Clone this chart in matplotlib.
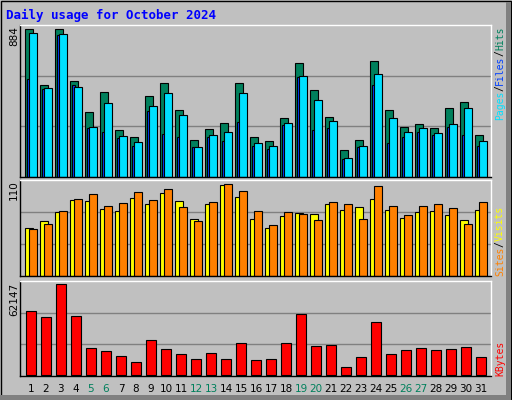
import matplotlib
matplotlib.use("Agg")
import matplotlib.pyplot as plt
from matplotlib.patches import Rectangle

days = list(range(1, 32))
weekend = [5, 6, 12, 13, 19, 20, 26, 27]

hits = [884, 551, 884, 571, 391, 505, 283, 241, 481, 559, 403, 222, 289, 325, 559, 236,
        217, 355, 679, 517, 361, 162, 222, 691, 403, 301, 319, 295, 415, 451, 253]
pages = [860, 529, 854, 535, 301, 445, 246, 210, 427, 499, 373, 180, 253, 271, 499, 204,
         186, 325, 601, 457, 337, 114, 186, 613, 355, 271, 295, 265, 319, 415, 216]
files = [583, 523, 848, 547, 295, 271, 234, 186, 395, 259, 241, 180, 241, 216, 331, 186,
         168, 313, 595, 283, 295, 108, 180, 547, 204, 241, 271, 253, 301, 253, 186]
visits = [57.4, 65.8, 76.5, 90.9, 89.7, 80.1, 77.7, 93.3, 86.1, 99.3, 89.7, 68.2, 86.1, 108.8,
          94.5, 68.2, 57.4, 71.8, 75.3, 74.2, 86.1, 78.9, 82.5, 92.1, 78.9, 69.4, 76.5, 77.7,
          72.9, 66.9, 78.9]
sites = [56.2, 62.2, 77.7, 92.1, 98.1, 83.7, 87.3, 100.4, 90.9, 104.0, 82.5, 65.8, 88.5, 110,
         101.6, 77.7, 60.6, 76.5, 74.2, 66.9, 88.5, 86.1, 68.2, 107.6, 83.7, 72.9, 83.7, 86.1,
         81.3, 62.2, 88.5]
kbytes = [43700, 39600, 62147, 40300, 18400, 16400, 13000, 8900, 23900, 17800, 14300, 10900,
          15000, 10900, 21800, 10200, 10900, 21800, 41700, 19800, 20500, 5500, 12300, 36200,
          14300, 17100, 18400, 17100, 17800, 19100, 12300]

BG = "#C0C0C0"
fig = plt.figure(figsize=(5.12, 4.0), dpi=100, facecolor=BG)
fig.patches.append(Rectangle((0.002, 0.002), 0.996, 0.996, transform=fig.transFigure,
                             fill=False, edgecolor="black", lw=1))
fig.patches.append(Rectangle((0.0, 0.0), 0.996, 0.013, transform=fig.transFigure,
                             facecolor="#808080", edgecolor="none"))
fig.patches.append(Rectangle((0.988, 0.0), 0.01, 0.996, transform=fig.transFigure,
                             facecolor="#808080", edgecolor="none"))

def panel(rect, ylim):
    ax = fig.add_axes(rect, facecolor=BG)
    ax.set_xlim(0.27, 31.67)
    ax.set_ylim(*ylim)
    ax.set_xticks([])
    ax.set_yticks([])
    for f in (1 / 3, 2 / 3):
        ax.axhline(ylim[0] + f * (ylim[1] - ylim[0]), color="#808080", lw=1, zorder=0)
    for s in ax.spines.values():
        s.set_color("black")
        s.set_linewidth(1)
    ax.spines["top"].set_color("white")
    ax.spines["right"].set_color("white")
    return ax

bk = dict(edgecolor="black", linewidth=0.8, align="edge")

ax1 = panel([20 / 512, 223 / 400, 471 / 512, 152 / 400], (0, 908))
ax1.bar([d - 0.38 for d in days], hits, width=0.49, color="#00805C", **bk)
ax1.bar([d - 0.29 for d in days], files, width=0.2, color="#0040FF", **bk)
ax1.bar([d - 0.11 for d in days], pages, width=0.49, color="#00E0FF", **bk)

ax2 = panel([20 / 512, 124 / 400, 471 / 512, 96 / 400], (0, 114.8))
ax2.bar([d - 0.38 for d in days], visits, width=0.49, color="#FFFF00", **bk)
ax2.bar([d - 0.11 for d in days], sites, width=0.49, color="#FF8000", **bk)

ax3 = panel([20 / 512, 24 / 400, 471 / 512, 95 / 400], (-683, 64425))
ax3.bar([d - 0.31 for d in days], kbytes, width=0.67, color="#FF0000", **bk)

fig.text(6 / 512, 1 - 15 / 400, "Daily usage for October 2024", color="#0000FF",
         family="DejaVu Sans Mono", weight="bold", fontsize=9, va="center")

lab = dict(rotation=90, fontsize=7.5, ha="center", va="top")
fig.text(14 / 512, 1 - 26 / 400, "884", **lab)
fig.text(14 / 512, 1 - 180 / 400, "110", **lab)
fig.text(14 / 512, 1 - 283 / 400, "62147", **lab)

FS = 7
CH = 0.6 * FS * 100 / 72
mono = dict(rotation=90, fontsize=FS, ha="center", va="bottom", family="DejaVu Sans Mono")
x = 500 / 512
def stack(parts, y0):
    y = y0
    for txt, col in parts:
        fig.text(x, 1 - y / 400, txt, color=col, **mono)
        y -= len(txt) * CH

stack([("Pages", "#00E0FF"), ("/", "black"), ("Files", "#0040FF"), ("/", "black"),
       ("Hits", "#00805C")], 120)
stack([("Sites", "#FF8000"), ("/", "black"), ("Visits", "#FFFF00")], 276)
stack([("KBytes", "#FF0000")], 376)

for d in days:
    xf = (20 + (d - 0.27) * 15.0) / 512
    fig.text(xf, 1 - 389 / 400, str(d), fontsize=7.5, ha="center", va="center",
             color="#00805C" if d in weekend else "black")

fig.savefig("out.png", dpi=100, facecolor=BG)
